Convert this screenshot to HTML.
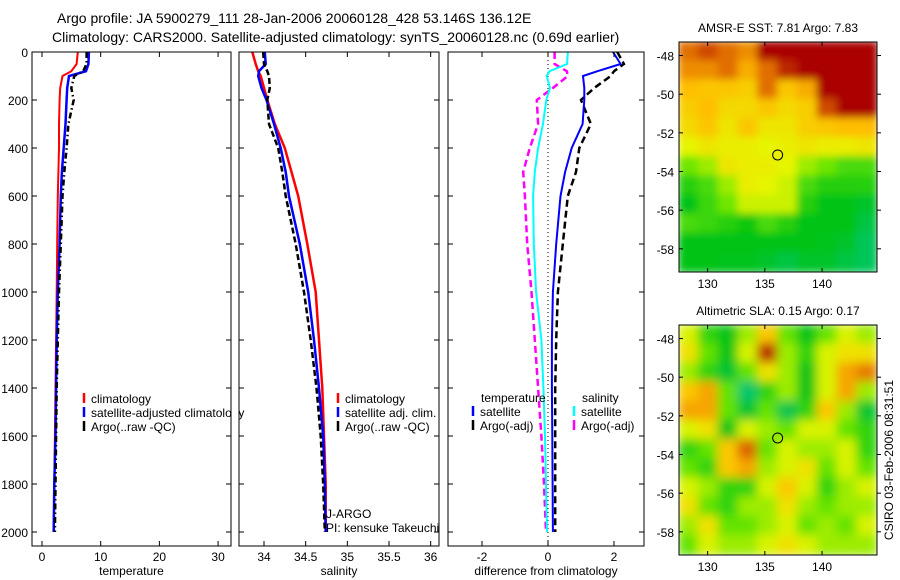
<!DOCTYPE html>
<html><head><meta charset="utf-8"><style>
body{margin:0;background:#fff;width:900px;height:580px;overflow:hidden}
svg{display:block;font-family:"Liberation Sans",sans-serif}
</style></head><body>
<svg id="fig" width="900" height="580" viewBox="0 0 900 580">
<text x="57" y="23" font-size="14">Argo profile: JA 5900279_111 28-Jan-2006 20060128_428 53.146S 136.12E</text>
<text x="52" y="42" font-size="14">Climatology: CARS2000. Satellite-adjusted climatology: synTS_20060128.nc (0.69d earlier)</text>
</svg>
<script>
const depths=[0,50,80,100,150,200,300,400,500,600,800,1000,1200,1400,1600,1800,2000];
const tempClim=[6.1,5.9,5.0,3.5,3.1,3.0,2.9,2.9,2.8,2.7,2.6,2.5,2.4,2.3,2.2,2.1,2.0];
const tempSat=[8.0,7.9,7.5,4.6,4.3,4.2,4.0,3.7,3.4,3.2,3.0,2.7,2.5,2.4,2.3,2.1,2.0];
const tempArgo=[7.6,7.6,7.0,5.5,5.0,5.4,4.5,4.2,3.8,3.5,3.2,2.9,2.7,2.5,2.4,2.3,2.2];
const salClim=[33.86,33.9,33.93,33.96,34.0,34.04,34.13,34.25,34.33,34.41,34.52,34.62,34.66,34.70,34.72,34.74,34.74];
const salSat=[34.01,34.02,33.94,33.93,33.97,34.03,34.12,34.2,34.26,34.3,34.43,34.53,34.6,34.66,34.71,34.73,34.74];
const salArgo=[33.99,34.0,34.04,34.06,34.07,34.04,34.06,34.17,34.22,34.26,34.38,34.48,34.56,34.63,34.68,34.71,34.73];
const dTempSat=[1.97,2.2,1.5,1.06,1.1,1.1,1.05,0.72,0.52,0.38,0.25,0.15,0.12,0.12,0.13,0.14,0.15];
const dTempArgo=[2.1,2.3,2.0,1.9,1.4,1.0,1.3,0.95,0.85,0.6,0.45,0.3,0.25,0.22,0.22,0.22,0.22];
const dSalSat=[0.6,0.58,0.05,-0.04,0.06,-0.05,-0.15,-0.3,-0.4,-0.45,-0.43,-0.36,-0.2,-0.14,-0.09,-0.06,-0.03];
const dSalArgo=[0.2,0.2,0.57,0.6,0.15,-0.34,-0.3,-0.55,-0.75,-0.7,-0.63,-0.5,-0.4,-0.3,-0.2,-0.12,-0.06];
const depthTicks=[0,200,400,600,800,1000,1200,1400,1600,1800,2000];
const tempTicks=[0,10,20,30];
const salTicks=[34,34.5,35,35.5,36];
const diffTicks=[-2,0,2];
const sstGrid=[
[.85,.9,.85,.8,1,1,1,1,1,1],[.8,.8,.85,.75,.85,.95,1,1,1,1],[.72,.7,.7,.68,.85,.7,.75,1,1,1],
[.68,.72,.65,.65,.7,.65,.68,.9,1,1],[.65,.7,.62,.7,.62,.62,.68,.7,.72,.72],[.58,.62,.6,.6,.58,.6,.62,.6,.6,.62],
[.45,.5,.62,.6,.6,.58,.5,.45,.4,.4],[.35,.4,.5,.6,.58,.55,.4,.35,.35,.35],[.3,.38,.45,.55,.55,.55,.35,.3,.3,.25],
[.4,.38,.35,.32,.4,.35,.3,.3,.3,.2],[.3,.3,.3,.3,.3,.3,.3,.28,.25,.15],[.3,.3,.28,.28,.25,.2,.25,.25,.2,.15]];
const slaGrid=[
[.55,.4,.35,.5,.65,.45,.35,.45,.55,.5],[.6,.45,.35,.55,.85,.5,.4,.55,.6,.6],[.5,.4,.3,.45,.6,.5,.35,.55,.7,.75],
[.65,.7,.45,.2,.4,.5,.35,.55,.7,.5],[.7,.7,.45,.3,.45,.25,.4,.65,.5,.3],[.55,.6,.35,.55,.5,.45,.55,.55,.45,.4],
[.4,.45,.65,.78,.45,.55,.5,.5,.55,.4],[.45,.4,.65,.7,.5,.55,.6,.45,.55,.45],[.55,.5,.4,.4,.55,.65,.55,.4,.5,.55],
[.6,.45,.4,.5,.5,.6,.5,.45,.5,.5],[.5,.6,.45,.45,.5,.55,.45,.5,.45,.55],[.45,.55,.5,.5,.55,.6,.55,.5,.5,.5]];
const lonTicks=[130,135,140];
const latTicks=[-48,-50,-52,-54,-56,-58];
const argoLon=136.12, argoLat=-53.146;

const NS='http://www.w3.org/2000/svg';
const fig=document.getElementById('fig');
function mk(tag,attrs,parent){const e=document.createElementNS(NS,tag);for(const k in attrs)e.setAttribute(k,attrs[k]);(parent||fig).appendChild(e);return e;}
function txt(s,x,y,attrs,parent){const t=mk('text',Object.assign({x:x,y:y,'font-size':12},attrs||{}),parent);t.textContent=s;return t;}
const yD=d=>52+d*0.24;

function panel(name,x0,x1,xmin,xmax,ticks,xlabel,yLabels){
  const g=mk('g',{});
  
  
  const sx=v=>x0+(v-xmin)/(xmax-xmin)*(x1-x0);
  const clipId=name+'-clip';
  const cp=mk('clipPath',{id:clipId},g);mk('rect',{x:x0,y:52,width:x1-x0,height:494},cp);
  const plot=mk('g',{'clip-path':'url(#'+clipId+')'},g);
  mk('rect',{x:x0,y:52,width:x1-x0,height:494,fill:'none',stroke:'#000','stroke-width':1},g);
  depthTicks.forEach(d=>{const y=yD(d);
    mk('line',{x1:x0,y1:y,x2:x0+5,y2:y,stroke:'#000'},g);mk('line',{x1:x1-5,y1:y,x2:x1,y2:y,stroke:'#000'},g);
    if(yLabels){const t=txt(String(d),x0-4,y+5,{'text-anchor':'end'},g);}});
  ticks.forEach(v=>{const x=sx(v);
    mk('line',{x1:x,y1:52,x2:x,y2:57,stroke:'#000'},g);mk('line',{x1:x,y1:541,x2:x,y2:546,stroke:'#000'},g);
    const t=txt(String(v),x,561,{'text-anchor':'middle'},g);});
  const xl=txt(xlabel,(x0+x1)/2,575,{'text-anchor':'middle'},g);
  
  return {g,plot,sx};
}
function series(p,vals,color,dash,w,name){
  const pts=vals.map((v,i)=>p.sx(v).toFixed(1)+','+yD(depths[i]).toFixed(1)).join(' ');
  const l=mk('polyline',{points:pts,fill:'none',stroke:color,'stroke-width':w,'stroke-dasharray':dash||'none'},p.plot);
  
  
}
function legend(parent,x,y,color,label,name){
  mk('line',{x1:x,y1:y-10,x2:x,y2:y,stroke:color,'stroke-width':2.5},parent);
  const t=txt(label,x+7,y,{},parent);
  
  
}

const p1=panel('temperature-panel',32,231,-1.7,32.2,tempTicks,'temperature',true);
series(p1,tempClim,'#f00','',2,'temp-climatology-line');
series(p1,tempSat,'#00f','',2.5,'temp-satellite-line');
series(p1,tempArgo,'#000','6,3,1.5,3',2.5,'temp-argo-line');
legend(p1.g,84,403,'#f00','climatology','legend-climatology');
legend(p1.g,84,417,'#00f','satellite-adjusted climatology','legend-satellite-adjusted');
legend(p1.g,84,431,'#000','Argo(..raw -QC)','legend-argo');

const p2=panel('salinity-panel',239,439,33.7,36.1,salTicks,'salinity',false);
series(p2,salClim,'#f00','',2.5,'sal-climatology-line');
series(p2,salSat,'#00f','',2.5,'sal-satellite-line');
series(p2,salArgo,'#000','6,3',2.5,'sal-argo-line');
mk('rect',{x:231.5,y:405,width:7,height:20,fill:'#fff'});
legend(p2.g,338,403,'#f00','climatology','legend-climatology');
legend(p2.g,338,417,'#00f','satellite adj. clim.','legend-satellite-adj');
legend(p2.g,338,431,'#000','Argo(..raw -QC)','legend-argo');
const ja=txt('J-ARGO',326,518,{},p2.g);
const pi=txt('PI: kensuke Takeuchi',326,532,{},p2.g);

const p3=panel('difference-panel',448,644,-3.03,2.91,diffTicks,'difference from climatology',false);
mk('line',{x1:p3.sx(0),y1:52,x2:p3.sx(0),y2:546,stroke:'#000','stroke-width':1,'stroke-dasharray':'1,3'},p3.plot);
series(p3,dSalArgo,'#f0f','7,4',2.5,'diff-sal-argo-line');
series(p3,dSalSat,'#0ff','',2,'diff-sal-satellite-line');
series(p3,dTempArgo,'#000','7,4',2.5,'diff-temp-argo-line');
series(p3,dTempSat,'#00f','',2,'diff-temp-satellite-line');
const lh1=txt('temperature',481,402,{},p3.g);
const lh2=txt('salinity',582,402,{},p3.g);
legend(p3.g,473,416,'#00f','satellite','legend-temp-satellite');
legend(p3.g,473,430,'#000','Argo(-adj)','legend-temp-argo');
legend(p3.g,574,416,'#0ff','satellite','legend-sal-satellite');
legend(p3.g,574,430,'#f0f','Argo(-adj)','legend-sal-argo');

function cmap(v){
  const stops=[[0,[0,200,160]],[0.3,[0,195,20]],[0.45,[110,230,0]],[0.58,[230,245,0]],[0.72,[255,190,0]],[0.85,[225,110,0]],[1,[170,0,0]]];
  v=Math.max(0,Math.min(1,v));
  for(let i=1;i<stops.length;i++){if(v<=stops[i][0]){const a=stops[i-1],b=stops[i],t=(v-a[0])/(b[0]-a[0]);
    return 'rgb('+a[1].map((c,k)=>Math.round(c+(b[1][k]-c)*t)).join(',')+')';}}
  return 'rgb(170,0,0)';
}
function map(name,grid,top,bot,title,blur,contrast){
  const left=679,right=877,lonMin=127.5,lonMax=144.8,latTop=-47.3,latBot=-59.2;
  const sx=lo=>left+(lo-lonMin)/(lonMax-lonMin)*(right-left);
  const sy=la=>top+(la-latTop)/(latBot-latTop)*(bot-top);
  const g=mk('g',{});
  
  
  const fid=name+'-blur';
  const f=mk('filter',{id:fid,x:'-5%',y:'-5%',width:'110%',height:'110%'},g);mk('feGaussianBlur',{stdDeviation:blur},f);
  const cp=mk('clipPath',{id:name+'-clip'},g);mk('rect',{x:left,y:top,width:right-left,height:bot-top},cp);
  const outer=mk('g',{'clip-path':'url(#'+name+'-clip)'},g);
  const cells=mk('g',{filter:'url(#'+fid+')'},outer);
  const nr=grid.length,nc=grid[0].length,cw=(right-left)/nc,ch=(bot-top)/nr;
  grid.forEach((row,r)=>row.forEach((v,c)=>{
    const vv=0.5+(v-0.5)*contrast;
    const cell=mk('rect',{x:left+c*cw-1,y:top+r*ch-1,width:cw+2,height:ch+2,fill:cmap(vv)},cells);
    
    
  }));
  mk('rect',{x:left,y:top,width:right-left,height:bot-top,fill:'none',stroke:'#000'},g);
  lonTicks.forEach(lo=>{const x=sx(lo);mk('line',{x1:x,y1:top,x2:x,y2:top+4,stroke:'#000'},g);mk('line',{x1:x,y1:bot-4,x2:x,y2:bot,stroke:'#000'},g);
    const t=txt(String(lo),x,bot+16,{'text-anchor':'middle'},g);});
  latTicks.forEach(la=>{const y=sy(la);mk('line',{x1:left,y1:y,x2:left+4,y2:y,stroke:'#000'},g);mk('line',{x1:right,y1:y,x2:right+4,y2:y,stroke:'#000'},g);
    const t=txt(String(la),left-5,y+5,{'text-anchor':'end'},g);});
  const c=mk('circle',{cx:sx(argoLon),cy:sy(argoLat),r:5,fill:'none',stroke:'#000','stroke-width':1},g);
  
  const tt=txt(title,(left+right)/2,top-10,{'text-anchor':'middle'},g);
  
}
map('sst-map',sstGrid,42,272,'AMSR-E SST: 7.81  Argo: 7.83',4,1.0);
map('sla-map',slaGrid,325,555,'Altimetric SLA: 0.15  Argo: 0.17',5,1.3);
const cs=txt('CSIRO 03-Feb-2006 08:31:51',893,460,{'text-anchor':'middle',transform:'rotate(-90 893 460)'});


</script>
</body></html>
